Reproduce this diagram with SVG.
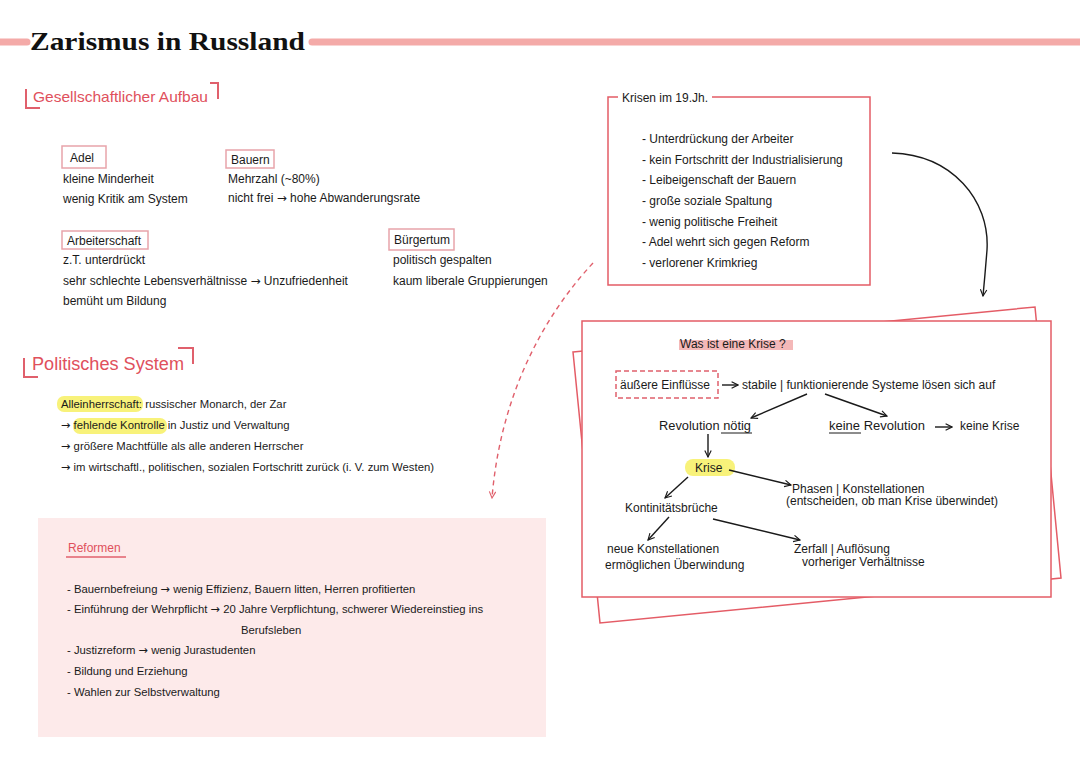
<svg xmlns="http://www.w3.org/2000/svg" width="1080" height="764" viewBox="0 0 1080 764">
<style>
.t{font-family:"Liberation Sans",Arial,sans-serif;font-size:12px;fill:#1a1a1a}
.s{font-size:11.3px}
.a{font-family:"DejaVu Sans",sans-serif}
.h{font-family:"Liberation Sans",Arial,sans-serif;fill:#e0505c}
.br{fill:none;stroke:#e0606c;stroke-width:2}
.lb{fill:#fff;stroke:#e8a4aa;stroke-width:1.5}
.pap{fill:#fff;stroke:#e45c66;stroke-width:1.5}
.ar{fill:none;stroke:#1a1a1a;stroke-width:1.4}
.hl{fill:#f8f27a}
</style>
<defs>
<marker id="ah" viewBox="0 0 10 10" refX="9" refY="5" markerWidth="8" markerHeight="8" orient="auto" markerUnits="userSpaceOnUse">
<path d="M1,1 L9,5 L1,9" fill="none" stroke="#1a1a1a" stroke-width="1.4"/>
</marker>
<marker id="ahr" viewBox="0 0 10 10" refX="9" refY="5" markerWidth="8" markerHeight="8" orient="auto" markerUnits="userSpaceOnUse">
<path d="M1,1 L9,5 L1,9" fill="none" stroke="#e0606c" stroke-width="1.4"/>
</marker>
</defs>
<rect width="1080" height="764" fill="#fff"/>

<g id="title">
<line x1="0" y1="42" x2="27" y2="42" stroke="#f4aaa8" stroke-width="7" stroke-linecap="round"/>
<line x1="312" y1="42" x2="1080" y2="42" stroke="#f4aaa8" stroke-width="7" stroke-linecap="round"/>
<text x="30" y="50" font-family="Liberation Serif,'Times New Roman',serif" font-weight="bold" font-size="26" fill="#111" textLength="275" lengthAdjust="spacingAndGlyphs">Zarismus in Russland</text>
</g>

<g id="gesellschaft-heading">
<path class="br" d="M26,89 V108 H40"/>
<path class="br" d="M210,83 H218 V99"/>
<text class="h" x="33" y="102" font-size="15" textLength="175" lengthAdjust="spacingAndGlyphs">Gesellschaftlicher Aufbau</text>
</g>

<g id="adel">
<rect class="lb" x="62" y="146" width="44" height="22"/>
<text class="t" x="70" y="162">Adel</text>
<text class="t" x="63" y="183">kleine Minderheit</text>
<text class="t" x="63" y="203">wenig Kritik am System</text>
</g>

<g id="bauern">
<rect class="lb" x="226" y="150" width="48" height="18"/>
<text class="t" x="231" y="164">Bauern</text>
<text class="t" x="228" y="183">Mehrzahl (~80%)</text>
<text class="t" x="228" y="202">nicht frei <tspan class="a">→</tspan> hohe Abwanderungsrate</text>
</g>

<g id="arbeiterschaft">
<rect class="lb" x="62" y="231" width="86" height="18"/>
<text class="t" x="67" y="245">Arbeiterschaft</text>
<text class="t" x="63" y="264">z.T. unterdrückt</text>
<text class="t" x="63" y="285">sehr schlechte Lebensverhältnisse <tspan class="a">→</tspan> Unzufriedenheit</text>
<text class="t" x="63" y="305">bemüht um Bildung</text>
</g>

<g id="buergertum">
<rect class="lb" x="389" y="229" width="65" height="21"/>
<text class="t" x="394" y="244">Bürgertum</text>
<text class="t" x="393" y="264">politisch gespalten</text>
<text class="t" x="393" y="285">kaum liberale Gruppierungen</text>
</g>

<g id="politik-heading">
<path class="br" d="M24,358 V377 H38"/>
<path class="br" d="M178,348 H193 V364"/>
<text class="h" x="32" y="370" font-size="18" textLength="152" lengthAdjust="spacingAndGlyphs">Politisches System</text>
</g>

<g id="politik">
<rect class="hl" x="57" y="396" width="86" height="16" rx="7"/>
<rect class="hl" x="73" y="418" width="94" height="16" rx="7"/>
<text class="t s" x="61" y="408">Alleinherrschaft: russischer Monarch, der Zar</text>
<text class="t s" x="61" y="429"><tspan class="a">→</tspan> fehlende Kontrolle in Justiz und Verwaltung</text>
<text class="t s" x="61" y="450"><tspan class="a">→</tspan> größere Machtfülle als alle anderen Herrscher</text>
<text class="t s" x="61" y="471"><tspan class="a">→</tspan> im wirtschaftl., politischen, sozialen Fortschritt zurück (i. V. zum Westen)</text>
</g>

<g id="reformen">
<rect x="38" y="518" width="508" height="219" fill="#fdeaea"/>
<text class="h" x="68" y="552" font-size="12">Reformen</text>
<line x1="66" y1="557" x2="126" y2="557" stroke="#e0606c" stroke-width="1.6"/>
<text class="t s" x="67" y="593">- Bauernbefreiung <tspan class="a">→</tspan> wenig Effizienz, Bauern litten, Herren profitierten</text>
<text class="t s" x="67" y="613">- Einführung der Wehrpflicht <tspan class="a">→</tspan> 20 Jahre Verpflichtung, schwerer Wiedereinstieg ins</text>
<text class="t s" x="241" y="634">Berufsleben</text>
<text class="t s" x="67" y="654">- Justizreform <tspan class="a">→</tspan> wenig Jurastudenten</text>
<text class="t s" x="67" y="675">- Bildung und Erziehung</text>
<text class="t s" x="67" y="696">- Wahlen zur Selbstverwaltung</text>
</g>

<g id="krisen">
<path class="pap" fill="none" d="M618,97 H608 V285 H870 V97 H712"/>
<text class="t" x="622" y="102" font-size="11">Krisen im 19.Jh.</text>
<text class="t" x="642" y="143" font-size="11">- Unterdrückung der Arbeiter</text>
<text class="t" x="642" y="164" font-size="11">- kein Fortschritt der Industrialisierung</text>
<text class="t" x="642" y="184" font-size="11">- Leibeigenschaft der Bauern</text>
<text class="t" x="642" y="205" font-size="11">- große soziale Spaltung</text>
<text class="t" x="642" y="226" font-size="11">- wenig politische Freiheit</text>
<text class="t" x="642" y="246" font-size="11">- Adel wehrt sich gegen Reform</text>
<text class="t" x="642" y="267" font-size="11">- verlorener Krimkrieg</text>
</g>

<g id="krise-papier">
<polygon class="pap" points="573,352 1035,307 1061,578 600,623"/>
<rect class="pap" x="582" y="321" width="469" height="276"/>
</g>

<g id="was-ist-krise">
<rect x="679" y="340" width="114" height="10" fill="#f4b8b8"/>
<text class="t" x="680" y="348">Was ist eine Krise ?</text>
</g>

<g id="aeussere">
<rect x="616" y="371" width="102" height="27" fill="none" stroke="#e0606c" stroke-width="1.5" stroke-dasharray="5,3"/>
<text class="t" x="620" y="389">äußere Einflüsse</text>
</g>
<g id="stabile">
<text class="t" x="742" y="389" font-size="11.5">stabile | funktionierende Systeme lösen sich auf</text>
</g>
<g id="revolution-noetig">
<text class="t" x="659" y="430" textLength="92" lengthAdjust="spacingAndGlyphs">Revolution nötig</text>
<line x1="721" y1="433" x2="752" y2="433" stroke="#1a1a1a" stroke-width="1"/>
</g>
<g id="keine-revolution">
<text class="t" x="829" y="430" textLength="96" lengthAdjust="spacingAndGlyphs">keine Revolution</text>
<line x1="829" y1="433" x2="861" y2="433" stroke="#1a1a1a" stroke-width="1"/>
<text class="t" x="960" y="430">keine Krise</text>
</g>
<g id="krise">
<rect class="hl" x="685" y="459" width="50" height="17" rx="8"/>
<text class="t" x="695" y="472">Krise</text>
</g>
<g id="phasen">
<text class="t" x="792" y="493">Phasen | Konstellationen</text>
<text class="t" x="786" y="505" font-size="9.5">(entscheiden, ob man Krise überwindet)</text>
</g>
<g id="kontinuitaet">
<text class="t" x="625" y="512">Kontinitätsbrüche</text>
</g>
<g id="neue">
<text class="t" x="607" y="553">neue Konstellationen</text>
<text class="t" x="605" y="569">ermöglichen Überwindung</text>
</g>
<g id="zerfall">
<text class="t" x="794" y="553" font-size="11.5">Zerfall | Auflösung</text>
<text class="t" x="802" y="566" font-size="11.5">vorheriger Verhältnisse</text>
</g>

<g id="connectors">
<path class="ar" d="M892,153 C952,155 990,200 987,250 Q985,275 983,296" marker-end="url(#ah)"/>
<path d="M593,263 C540,320 500,400 492,498" fill="none" stroke="#e0606c" stroke-width="1.4" stroke-dasharray="5,4" marker-end="url(#ahr)"/>
<line class="ar" x1="722" y1="385" x2="738" y2="385" marker-end="url(#ah)"/>
<line class="ar" x1="807" y1="394" x2="751" y2="418" marker-end="url(#ah)"/>
<line class="ar" x1="825" y1="394" x2="887" y2="416" marker-end="url(#ah)"/>
<line class="ar" x1="935" y1="427" x2="952" y2="427" marker-end="url(#ah)"/>
<line class="ar" x1="708" y1="434" x2="708" y2="457" marker-end="url(#ah)"/>
<line class="ar" x1="729" y1="470" x2="791" y2="485" marker-end="url(#ah)"/>
<line class="ar" x1="688" y1="477" x2="665" y2="498" marker-end="url(#ah)"/>
<line class="ar" x1="669" y1="517" x2="648" y2="540" marker-end="url(#ah)"/>
<line class="ar" x1="713" y1="519" x2="800" y2="540" marker-end="url(#ah)"/>
</g>
</svg>
